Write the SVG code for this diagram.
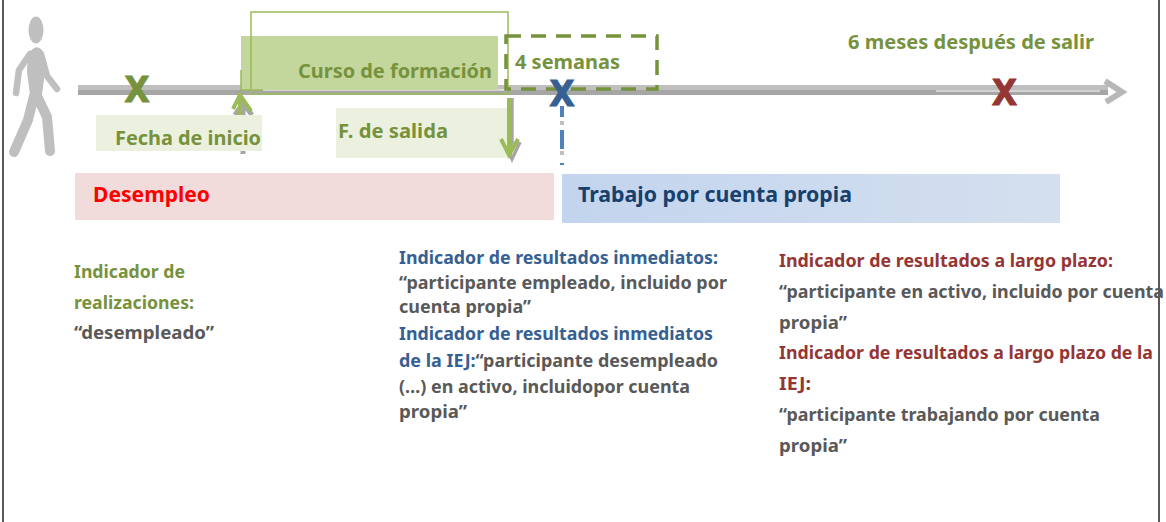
<svg xmlns="http://www.w3.org/2000/svg" width="1166" height="522" viewBox="0 0 1166 522">
<defs>
<linearGradient id="blue" x1="0" x2="1" y1="0" y2="0"><stop offset="0" stop-color="#c3d4ee"/><stop offset="1" stop-color="#d4e0ef"/></linearGradient>
</defs>
<style>
text{font-family:"Noto Sans","Open Sans","Liberation Sans",sans-serif;font-weight:700;font-size:19px}
.g{fill:#76923c}.d{fill:#595959;font-size:18px}.b{fill:#366092;font-size:18px}.r{fill:#943634;font-size:18px}.gs{font-size:18px;fill:#76923c}
.x{font-size:36px;stroke-width:1.200px}
</style>
<rect width="1166" height="522" fill="#fff"/>
<g id="frame" fill="none" stroke="#595959" stroke-width="2"><path d="M3 0V522M1159 0V522"/></g>
<g id="person" fill="#bfbfbf">
<ellipse cx="36" cy="30" rx="7.500" ry="13.500"/>
<path d="M28 54Q36 43 42 50L45 72L41 102L31 102L27 72Z"/>
<g fill="none" stroke="#bfbfbf" stroke-linecap="round" stroke-linejoin="round">
<path d="M30 54L19 70L16 93M41 54L47 76L57 89" stroke-width="6.500"/>
<path d="M34 96L28 120L14 152M37 96L47 117L50 151" stroke-width="10"/>
</g>
</g>
<g id="connectors">
<rect x="78" y="85" width="1030" height="5" fill="#bfbfbf"/>
<rect x="78" y="90" width="1030" height="5" fill="#a6a6a6"/>
<path d="M263 90H510M936 91H1100" stroke="#fff" stroke-width="1.200" fill="none"/>
<path d="M1105 81L1122 92L1106 102" fill="none" stroke="#b8b8b8" stroke-width="6"/>
<path d="M243 154V100M235 115L243 103L252 115" fill="none" stroke="#a6a6a6" stroke-width="5"/>
<path d="M512 98V150M504 142L512 159L520 142" stroke="#a6a6a6" stroke-width="3.500" fill="none"/>
<path d="M562 121V125M562 151V155" stroke="#bfbfbf" stroke-width="4" fill="none"/>
<path d="M562 106V117M562 130V149M562 163V165" stroke="#4f81bd" stroke-width="4" fill="none"/>
</g>
<g id="curso">
<rect x="241" y="36" width="257" height="54" fill="#c3d69b"/>
<rect x="251" y="12" width="257" height="82" fill="none" stroke="#9bbb59" stroke-width="1.500"/>
<path d="M241 70V90H263" stroke="#9bbb59" stroke-width="1.500" fill="none"/>
<text class="g" x="298" y="78" textLength="194" lengthAdjust="spacingAndGlyphs">Curso de formación</text>
</g>
<g id="inicio">
<rect x="96" y="115" width="166" height="36" fill="#ebf1de"/>
<path d="M240 115V93M233 109L240 95L251 111" fill="none" stroke="#9bbb59" stroke-width="4"/>
<text class="g" x="115" y="145" textLength="146" lengthAdjust="spacingAndGlyphs">Fecha de inicio</text>
</g>
<g id="salida">
<rect x="336" y="108" width="172" height="50" fill="#ebf1de"/>
<path d="M509 98V155M501 139L509 155L518 139" fill="none" stroke="#9bbb59" stroke-width="4"/>
<text class="g" x="338" y="138" textLength="110" lengthAdjust="spacingAndGlyphs">F. de salida</text>
</g>
<g id="semanas">
<rect x="506" y="36" width="151" height="53" fill="none" stroke="#76923c" stroke-width="3.500" stroke-dasharray="15 10"/>
<text class="g" x="515" y="69" textLength="105" lengthAdjust="spacingAndGlyphs">4 semanas</text>
</g>
<g id="seis-meses"><text class="g" x="848" y="49" textLength="246" lengthAdjust="spacingAndGlyphs">6 meses después de salir</text></g>
<g id="marks">
<text class="g x" stroke="#76923c" x="137" y="102" text-anchor="middle">X</text>
<text class="x" fill="#366092" stroke="#366092" x="562" y="106" text-anchor="middle">X</text>
<text class="x" fill="#943634" stroke="#943634" x="1004.500" y="105" text-anchor="middle">X</text>
</g>
<g id="desempleo">
<rect x="75" y="173" width="479" height="47" fill="#f2dcdb"/>
<text x="93" y="202" fill="#ff0000" style="font-size:21px" textLength="117" lengthAdjust="spacingAndGlyphs">Desempleo</text>
</g>
<g id="trabajo">
<rect x="562" y="174" width="498" height="49" fill="url(#blue)"/>
<text x="578" y="202" fill="#17406d" style="font-size:21px" textLength="274" lengthAdjust="spacingAndGlyphs">Trabajo por cuenta propia</text>
</g>
<g id="realizaciones">
<text class="gs" x="74" y="278" textLength="111" lengthAdjust="spacingAndGlyphs">Indicador de</text>
<text class="gs" x="74" y="309" textLength="120" lengthAdjust="spacingAndGlyphs">realizaciones:</text>
<text class="d" x="74" y="339" textLength="140" lengthAdjust="spacingAndGlyphs">“desempleado”</text>
</g>
<g id="inmediatos">
<text class="b" x="399" y="264" textLength="319" lengthAdjust="spacingAndGlyphs">Indicador de resultados inmediatos:</text>
<text class="d" x="399" y="289" textLength="328" lengthAdjust="spacingAndGlyphs">“participante empleado, incluido por</text>
<text class="d" x="399" y="313" textLength="132" lengthAdjust="spacingAndGlyphs">cuenta propia”</text>
<text class="b" x="399" y="340" textLength="314" lengthAdjust="spacingAndGlyphs">Indicador de resultados inmediatos</text>
<text x="399" y="367" class="d" textLength="319" lengthAdjust="spacingAndGlyphs"><tspan fill="#366092">de la IEJ:</tspan>“participante desempleado</text>
<text class="d" x="399" y="393" textLength="291" lengthAdjust="spacingAndGlyphs">(…) en activo, incluidopor cuenta</text>
<text class="d" x="399" y="418" textLength="68" lengthAdjust="spacingAndGlyphs">propia”</text>
</g>
<g id="largo-plazo">
<text class="r" x="779" y="267" textLength="334" lengthAdjust="spacingAndGlyphs">Indicador de resultados a largo plazo:</text>
<text class="d" x="779" y="298" textLength="385" lengthAdjust="spacingAndGlyphs">“participante en activo, incluido por cuenta</text>
<text class="d" x="779" y="329" textLength="68" lengthAdjust="spacingAndGlyphs">propia”</text>
<text class="r" x="779" y="359" textLength="374" lengthAdjust="spacingAndGlyphs">Indicador de resultados a largo plazo de la</text>
<text class="r" x="779" y="390" textLength="32" lengthAdjust="spacingAndGlyphs">IEJ:</text>
<text class="d" x="779" y="421" textLength="321" lengthAdjust="spacingAndGlyphs">“participante trabajando por cuenta</text>
<text class="d" x="779" y="452" textLength="68" lengthAdjust="spacingAndGlyphs">propia”</text>
</g>
</svg>
